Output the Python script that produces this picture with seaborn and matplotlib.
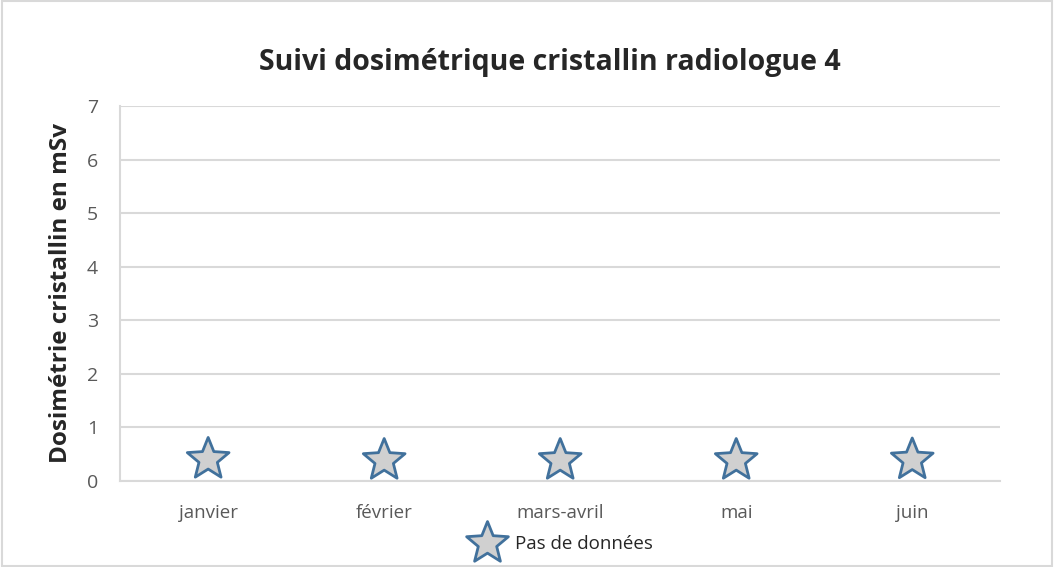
import numpy as np
import pandas as pd
import matplotlib
matplotlib.use('Agg')
import matplotlib.pyplot as plt
from matplotlib.path import Path
import seaborn as sns

# data
months = ['janvier', 'février', 'mars-avril', 'mai', 'juin']
values = [0.4, 0.38, 0.38, 0.38, 0.39]
series_name = 'Pas de données'

df = pd.DataFrame({'mois': months, 'dose': values, 'serie': series_name})

sns.set_style('white')
plt.rcParams['font.family'] = ['Open Sans', 'DejaVu Sans']

fig = plt.figure(figsize=(10.54, 5.67), dpi=100)
ax = fig.add_axes([0.114, 0.152, 0.835, 0.661])

# fatter star, closer to the office-style marker
star = Path.unit_regular_star(5, innerCircle=0.44)

x = np.arange(len(months))
df['x'] = x
sns.scatterplot(data=df, x='x', y='dose', hue='serie', palette=['#d0d0d0'],
                marker=star, s=1000, edgecolor='#41719c', linewidth=2, ax=ax, zorder=3)

ax.set_xlim(-0.5, len(months) - 0.5)
ax.set_ylim(0, 7)
ax.set_yticks(range(0, 8))
ax.set_xticks(x)
ax.set_xticklabels(months)
ax.set_xticks(np.arange(-0.5, len(months), 1), minor=True)
ax.tick_params(axis='x', which='major', length=0, pad=17, labelsize=13.5, labelcolor='#595959')
ax.tick_params(axis='x', which='minor', length=6, color='#d9d9d9', width=1.5)
ax.tick_params(axis='y', length=0, pad=16, labelsize=14, labelcolor='#595959')
ax.yaxis.grid(True, color='#d9d9d9', linewidth=1.5)
ax.set_axisbelow(True)
for side in ['top', 'right']:
    ax.spines[side].set_visible(False)
ax.spines['left'].set_color('#d9d9d9')
ax.spines['left'].set_linewidth(1.5)
ax.spines['bottom'].set_color('#d9d9d9')
ax.spines['bottom'].set_linewidth(1.5)

ax.set_xlabel('')
ax.set_ylabel('Dosimétrie cristallin en mSv', fontsize=17.5, fontweight='bold', labelpad=10)
fig.suptitle('Suivi dosimétrique cristallin radiologue 4', fontsize=20.5, fontweight='bold',
             x=0.522, y=0.915)

handles, labels = ax.get_legend_handles_labels()
leg = ax.legend(handles, labels, loc='upper center', bbox_to_anchor=(0.5, -0.1),
                frameon=False, fontsize=13.5, handletextpad=0.5, markerscale=1.0)

# figure border
fig.patches.append(plt.Rectangle((0.002, 0.002), 0.996, 0.996, transform=fig.transFigure,
                                 fill=False, edgecolor='#d9d9d9', linewidth=1.5))

fig.savefig('out.png', dpi=100)
